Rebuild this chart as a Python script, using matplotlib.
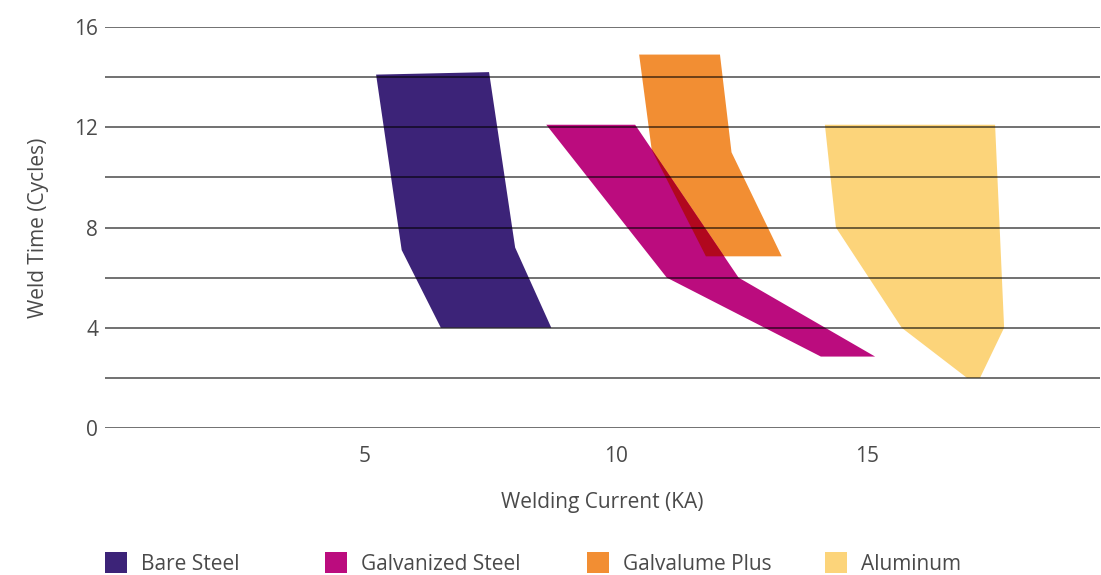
import matplotlib
matplotlib.use("Agg")
import matplotlib.pyplot as plt
from matplotlib.patches import Polygon, Patch

plt.rcParams['font.family'] = ['Open Sans', 'DejaVu Sans']

# ---- data ----
series_names = ["Bare Steel", "Galvanized Steel", "Galvalume Plus", "Aluminum"]
series_colors = ["#3c2378", "#bb0c7e", "#f28e33", "#fcd47a"]
overlap_color = "#b1081e"

bare_steel_x = [5.22, 7.47, 7.99, 8.71, 6.51, 5.73]
bare_steel_y = [14.1, 14.2, 7.2, 4.0, 4.0, 7.1]

galvanized_x = [8.61, 10.38, 12.44, 15.16, 14.08, 11.01]
galvanized_y = [12.1, 12.1, 6.0, 2.85, 2.85, 6.0]

galvalume_x = [10.46, 12.07, 12.30, 13.30, 11.79, 10.71]
galvalume_y = [14.9, 14.9, 11.0, 6.85, 6.85, 11.1]

aluminum_x = [14.16, 17.55, 17.73, 17.25, 16.99, 15.69, 14.38]
aluminum_y = [12.1, 12.1, 4.0, 2.0, 2.0, 4.0, 8.0]

y_ticks = [0, 4, 8, 12, 16]
y_grid = [0, 2, 4, 6, 8, 10, 12, 14, 16]
x_ticks = [5, 10, 15]

text_color = "#4a4a4a"
fs = 15
W, H = 1101, 575

fig = plt.figure(figsize=(W / 100, H / 100), dpi=100)
ax = fig.add_axes([105 / W, 1 - 428 / H, (1100 - 105) / W, (428 - 27) / H])
ax.set_xlim(-0.18, 19.64)
ax.set_ylim(0, 16)

def poly(xs, ys, color, z):
    p = Polygon(list(zip(xs, ys)), closed=True, facecolor=color, edgecolor='none', zorder=z)
    ax.add_patch(p)
    return p

poly(bare_steel_x, bare_steel_y, series_colors[0], 2)
poly(galvalume_x, galvalume_y, series_colors[2], 2)
mag = poly(galvanized_x, galvanized_y, series_colors[1], 2)
poly(aluminum_x, aluminum_y, series_colors[3], 2)
# overlap region (multiply-like blend)
ov = poly(galvalume_x, galvalume_y, overlap_color, 3)
ov.set_clip_path(mag)

for g in y_grid:
    ax.axhline(g, color='black', alpha=0.6, linewidth=1.3, zorder=5)

for s in ax.spines.values():
    s.set_visible(False)

ax.set_yticks(y_ticks)
ax.set_yticklabels([str(v) for v in y_ticks])
ax.set_xticks(x_ticks)
ax.set_xticklabels([str(v) for v in x_ticks])
ax.tick_params(axis='y', length=0, pad=5, labelsize=fs, labelcolor=text_color)
ax.tick_params(axis='x', length=0, pad=13, labelsize=fs, labelcolor=text_color)

ax.set_xlabel("Welding Current (KA)", fontsize=fs, color=text_color, labelpad=18)
ax.set_ylabel("Weld Time (Cycles)", fontsize=fs, color=text_color, labelpad=18)

legend_x_px = [105, 325, 587, 825]
for name, color, xp in zip(series_names, series_colors, legend_x_px):
    leg = fig.legend([Patch(facecolor=color, edgecolor='none')], [name],
                     loc='upper left', bbox_to_anchor=(xp / W, 1 - 552 / H),
                     frameon=False, fontsize=fs, handlelength=1.06, handleheight=1.2,
                     handletextpad=0.67, borderaxespad=0, borderpad=0)
    for t in leg.get_texts():
        t.set_color(text_color)

fig.savefig("out.png", dpi=100)
